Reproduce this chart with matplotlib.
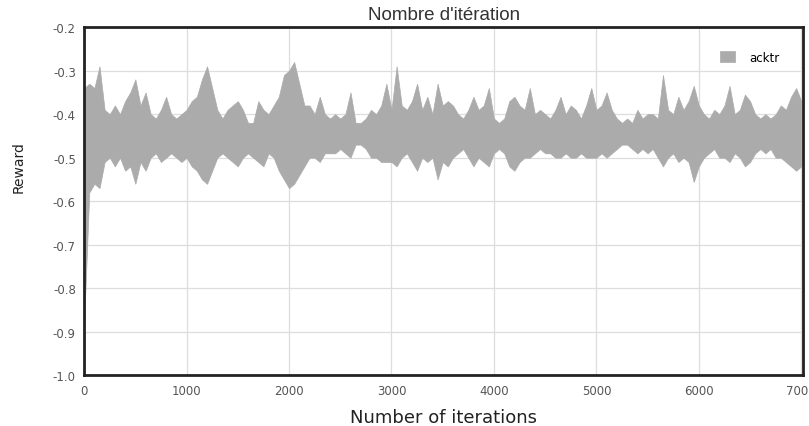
import numpy as np
import matplotlib.pyplot as plt

# reward envelope (upper / lower) sampled every 50 iterations
iterations = list(range(0, 7001, 50))
reward_hi = [
    -0.34, -0.33, -0.34, -0.29, -0.39, -0.40, -0.38, -0.40, -0.37, -0.35,
    -0.32, -0.38, -0.35, -0.40, -0.41, -0.39, -0.36, -0.40, -0.41, -0.40,
    -0.39, -0.37, -0.36, -0.32, -0.29, -0.34, -0.39, -0.41, -0.39, -0.38,
    -0.37, -0.39, -0.42, -0.42, -0.37, -0.39, -0.40, -0.38, -0.36, -0.31,
    -0.30, -0.28, -0.33, -0.38, -0.38, -0.40, -0.36, -0.40, -0.41, -0.40,
    -0.41, -0.40, -0.35, -0.42, -0.42, -0.41, -0.39, -0.40, -0.38, -0.33,
    -0.39, -0.29, -0.38, -0.39, -0.37, -0.33, -0.39, -0.36, -0.40, -0.33,
    -0.38, -0.37, -0.38, -0.40, -0.41, -0.39, -0.36, -0.39, -0.38, -0.34,
    -0.41, -0.42, -0.41, -0.37, -0.36, -0.38, -0.39, -0.34, -0.40, -0.39,
    -0.40, -0.41, -0.39, -0.36, -0.40, -0.38, -0.39, -0.41, -0.38, -0.34,
    -0.39, -0.38, -0.35, -0.39, -0.41, -0.42, -0.41, -0.42, -0.39, -0.41,
    -0.40, -0.40, -0.41, -0.31, -0.39, -0.40, -0.36, -0.39, -0.37, -0.335,
    -0.38, -0.40, -0.41, -0.39, -0.40, -0.38, -0.335, -0.40, -0.39, -0.355,
    -0.37, -0.40, -0.41, -0.40, -0.41, -0.40, -0.38, -0.39, -0.36, -0.34,
    -0.37,
]
reward_lo = [
    -0.88, -0.58, -0.56, -0.57, -0.51, -0.50, -0.52, -0.50, -0.53, -0.52,
    -0.56, -0.51, -0.53, -0.50, -0.49, -0.51, -0.50, -0.49, -0.50, -0.51,
    -0.50, -0.52, -0.53, -0.55, -0.56, -0.53, -0.50, -0.49, -0.50, -0.51,
    -0.52, -0.50, -0.49, -0.50, -0.51, -0.52, -0.49, -0.50, -0.53, -0.55,
    -0.57, -0.56, -0.54, -0.52, -0.50, -0.50, -0.51, -0.49, -0.49, -0.49,
    -0.48, -0.49, -0.50, -0.47, -0.47, -0.48, -0.50, -0.50, -0.51, -0.51,
    -0.51, -0.52, -0.50, -0.49, -0.51, -0.53, -0.50, -0.51, -0.50, -0.55,
    -0.51, -0.52, -0.50, -0.49, -0.48, -0.50, -0.52, -0.50, -0.51, -0.52,
    -0.49, -0.48, -0.49, -0.52, -0.53, -0.51, -0.50, -0.50, -0.49, -0.48,
    -0.49, -0.49, -0.50, -0.50, -0.49, -0.50, -0.50, -0.49, -0.50, -0.50,
    -0.50, -0.49, -0.50, -0.49, -0.48, -0.47, -0.47, -0.48, -0.49, -0.48,
    -0.49, -0.48, -0.50, -0.52, -0.50, -0.49, -0.51, -0.50, -0.51, -0.556,
    -0.52, -0.50, -0.49, -0.48, -0.50, -0.50, -0.51, -0.49, -0.50, -0.52,
    -0.51, -0.49, -0.48, -0.49, -0.48, -0.50, -0.50, -0.51, -0.52, -0.53,
    -0.52,
]

fig = plt.figure(figsize=(8.09, 4.27), dpi=100)
ax = fig.add_axes([0.104, 0.119, 0.889, 0.815])

ax.fill_between(iterations, reward_lo, reward_hi, color='#ababab', lw=0.5,
                edgecolor='#ababab', label='acktr')

ax.set_xlim(0, 7020)
ax.set_ylim(-1.0, -0.2)
ax.set_xticks(range(0, 7001, 1000))
ax.set_yticks(np.arange(-1.0, -0.19, 0.1))
ax.yaxis.set_major_formatter(plt.FormatStrFormatter('%.1f'))
ax.grid(True, color='#dddddd', lw=0.9)
ax.set_axisbelow(True)
ax.tick_params(length=0, labelsize=8.5, labelcolor='#555555', pad=6)
for s in ax.spines.values():
    s.set_linewidth(2)
    s.set_color('#222222')

ax.set_title("Nombre d'itération", fontsize=13.5, family='Liberation Sans',
             color='#333333', pad=6)
ax.set_xlabel('Number of iterations', fontsize=13, color='#222222', labelpad=8)
ax.set_ylabel('Reward', fontsize=10, color='#222222')
ax.yaxis.set_label_coords(-0.082, 0.6)

ax.legend(loc='upper right', frameon=False, fontsize=8.5, handlelength=1.3,
          handleheight=1.0, handletextpad=1.2, borderaxespad=1.6)

fig.savefig('out.png', dpi=100)
